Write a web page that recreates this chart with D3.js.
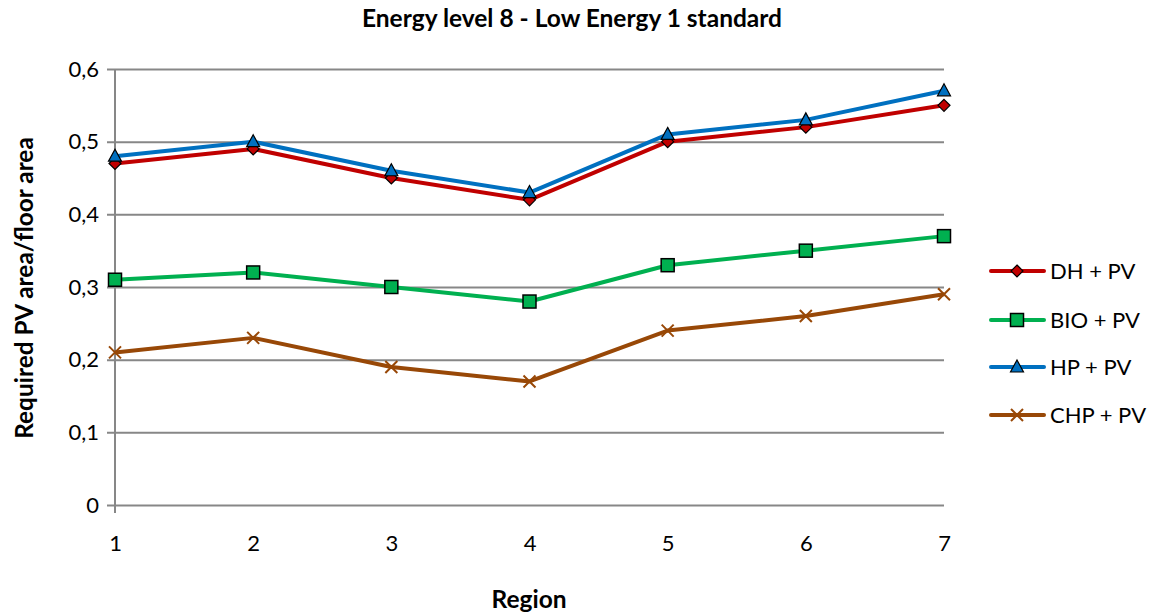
<!DOCTYPE html>
<html>
<head>
<meta charset="utf-8">
<script src="https://cdn.jsdelivr.net/npm/d3@7"></script>
<style>
  html, body { margin: 0; padding: 0; background: #fff; }
  svg text { font-family: Lato, "Open Sans", sans-serif; fill: #000; }
</style>
</head>
<body>
<svg id="chart" width="1155" height="616"></svg>
<script>
// Regions on the x axis
const regions = [1, 2, 3, 4, 5, 6, 7];
// Required PV area / floor area for each supply option
const dhPv  = [0.47, 0.49, 0.45, 0.42, 0.50, 0.52, 0.55];
const bioPv = [0.31, 0.32, 0.30, 0.28, 0.33, 0.35, 0.37];
const hpPv  = [0.48, 0.50, 0.46, 0.43, 0.51, 0.53, 0.57];
const chpPv = [0.21, 0.23, 0.19, 0.17, 0.24, 0.26, 0.29];
const yTicks = [0, 0.1, 0.2, 0.3, 0.4, 0.5, 0.6];

const series = [
  { name: "DH + PV",  values: dhPv,  color: "#C00000", marker: "diamond" },
  { name: "BIO + PV", values: bioPv, color: "#00B050", marker: "square" },
  { name: "HP + PV",  values: hpPv,  color: "#0070C0", marker: "triangle" },
  { name: "CHP + PV", values: chpPv, color: "#984807", marker: "cross" }
];

const svg = d3.select("#chart");
const plotLeft = 115, plotRight = 944, plotTop = 69, plotBottom = 505;

const x = d3.scaleLinear().domain([1, 7]).range([plotLeft, plotRight]);
const y = d3.scaleLinear().domain([0, 0.6]).range([plotBottom, plotTop]);
const fmt = d => String(d).replace(".", ",");

// Title
svg.append("text")
  .attr("x", 572).attr("y", 27)
  .attr("text-anchor", "middle")
  .style("font-weight", "bold").style("font-size", "24.5px")
  .text("Energy level 8 - Low Energy 1 standard");

// Horizontal gridlines with y axis labels
const yAxis = d3.axisLeft(y).tickValues(yTicks).tickFormat(fmt)
  .tickSize(-(plotRight - plotLeft)).tickSizeOuter(0).tickPadding(16);
const gy = svg.append("g").attr("transform", `translate(${plotLeft},0)`).call(yAxis);
gy.select(".domain").remove();
gy.selectAll(".tick line").attr("stroke", "#878787").attr("stroke-width", 2)
  .attr("x1", -8);
gy.selectAll(".tick text").style("font-size", "22px");

// Vertical axis line
svg.append("line")
  .attr("x1", plotLeft).attr("x2", plotLeft).attr("y1", plotTop).attr("y2", plotBottom + 8)
  .attr("stroke", "#878787").attr("stroke-width", 2);

// x axis labels
const xAxis = d3.axisBottom(x).tickValues(regions).tickFormat(d3.format("d"))
  .tickSize(0).tickPadding(30);
const gx = svg.append("g").attr("transform", `translate(0,${plotBottom})`).call(xAxis);
gx.select(".domain").remove();
gx.selectAll(".tick text").style("font-size", "22px");

// Axis titles
svg.append("text")
  .attr("x", 529).attr("y", 608)
  .attr("text-anchor", "middle")
  .style("font-weight", "bold").style("font-size", "24.5px")
  .text("Region");
svg.append("text")
  .attr("transform", "translate(33,288) rotate(-90)")
  .attr("text-anchor", "middle")
  .style("font-weight", "bold").style("font-size", "24.4px")
  .text("Required PV area/floor area");

function drawMarker(g, type, color) {
  if (type === "diamond") {
    g.append("path").attr("d", "M0,-6L6,0L0,6L-6,0Z")
      .attr("fill", color).attr("stroke", "#000").attr("stroke-width", 1.2);
  } else if (type === "square") {
    g.append("rect").attr("x", -6.5).attr("y", -6.5).attr("width", 13).attr("height", 13)
      .attr("fill", color).attr("stroke", "#000").attr("stroke-width", 1.5);
  } else if (type === "triangle") {
    g.append("path").attr("d", "M0,-7L6.5,5L-6.5,5Z")
      .attr("fill", color).attr("stroke", "#000").attr("stroke-width", 1.2);
  } else {
    g.append("path").attr("d", "M-6,-6L6,6M-6,6L6,-6")
      .attr("fill", "none").attr("stroke", color).attr("stroke-width", 2);
  }
}

const line = d3.line().x((d, i) => x(regions[i])).y(d => y(d));

series.forEach(s => {
  svg.append("path")
    .datum(s.values)
    .attr("d", line)
    .attr("fill", "none")
    .attr("stroke", s.color)
    .attr("stroke-width", 4)
    .attr("stroke-linejoin", "round");
});
series.forEach(s => {
  s.values.forEach((v, i) => {
    const g = svg.append("g").attr("transform", `translate(${x(regions[i])},${y(v)})`);
    drawMarker(g, s.marker, s.color);
  });
});

// Legend
const legendY = [271, 320, 367, 415];
series.forEach((s, i) => {
  const g = svg.append("g").attr("transform", `translate(0,${legendY[i]})`);
  g.append("line").attr("x1", 991).attr("x2", 1044).attr("y1", 0).attr("y2", 0)
    .attr("stroke", s.color).attr("stroke-width", 4).attr("stroke-linecap", "round");
  const m = g.append("g").attr("transform", "translate(1017,0)");
  drawMarker(m, s.marker, s.color);
  g.append("text").attr("x", 1050).attr("y", 8).style("font-size", "22px").text(s.name);
});
</script>
</body>
</html>
